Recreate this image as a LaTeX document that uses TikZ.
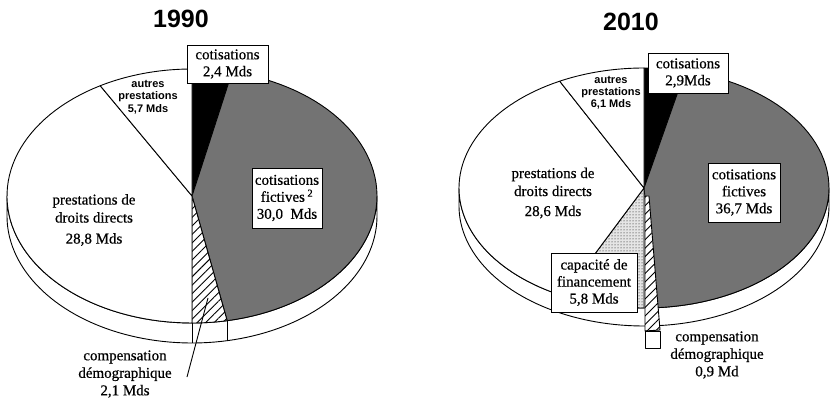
\documentclass[tikz,border=0pt]{standalone}
\usepackage{fontspec}
\setmainfont{Liberation Serif}[FakeBold=0.6]
\newfontfamily\sansf{Liberation Sans}
\usetikzlibrary{patterns.meta}
\newcommand\pieslice[3]{%
  \draw[#1] (\pcx,\pcy) -- plot[domain=#2:#3,samples=60] ({\pcx+\pra*cos(\x)},{\pcy+\prb*sin(\x)}) -- cycle;}
\newcommand\pieside{%
  \draw[edge,fill=white] ({\pcx+\pra},\pcy) -- ({\pcx+\pra},{\pcy+\pt})
    -- plot[domain=0:180,samples=90] ({\pcx+\pra*cos(\x)},{\pcy+\pt+\prb*sin(\x)})
    -- ({\pcx-\pra},\pcy)
    -- plot[domain=180:0,samples=90] ({\pcx+\pra*cos(\x)},{\pcy+\prb*sin(\x)}) -- cycle;}
\tikzset{
  edge/.style={line width=0.9pt, line join=round},
  boxlbl/.style={draw, fill=white, line width=0.9pt, inner sep=0pt, align=center,
    font=\fontsize{15}{17}\selectfont},
  srflbl/.style={align=center, font=\fontsize{15}{18}\selectfont},
  smlbl/.style={align=center, font=\sansf\bfseries\fontsize{11}{12.5}\selectfont},
  ttl/.style={font=\sansf\bfseries\fontsize{25}{25}\selectfont},
  darkwedge/.style={edge, fill=black},
  graywedge/.style={edge, fill=black!55},
  whitewedge/.style={edge, fill=white},
  hatchwedge/.style={edge, preaction={fill=white}, pattern={Lines[angle=45,distance=6pt,line width=0.9pt]}},
  dotwedge/.style={edge, preaction={fill=black!10}, pattern={Dots[distance=3pt,radius=0.5pt]}},
}
\begin{document}
\begin{tikzpicture}[x=1pt,y=-1pt]
\useasboundingbox (0,0) rectangle (831,401);

% ---------------- 1990 ----------------
\def\pcx{192}\def\pcy{196}\def\pra{185}\def\prb{127}\def\pt{20}
\pieside
\pieslice{darkwedge}{270}{282.52}
\pieslice{graywedge}{282.52}{439.04}
\pieslice{hatchwedge}{439.04}{450}
\pieslice{whitewedge}{90}{240.26}
\pieslice{whitewedge}{240.26}{270}
\coordinate (a1) at (192,323);
\coordinate (a2) at (192,343);
\coordinate (b1) at (227,320.7);
\coordinate (b2) at (227,340.7);
\draw[edge] (a1) -- (a2);
\draw[edge] (b1) -- (b2);

\node[ttl] (t1990) at (181,19) {1990};
\node[boxlbl, minimum width=81pt, minimum height=38pt] (cot90) at (227.5,64) {cotisations\\2,4 Mds};
\node[boxlbl, minimum width=70pt, minimum height=60pt] (fic90) at (287,198) {cotisations\\fictives\,\textsuperscript{2}\\30,0\ \ Mds};
\node[smlbl] (aut90) at (148,97) {autres\\prestations\\5,7 Mds};
\node[srflbl] (pre90) at (94,220) {prestations de\\droits directs\\[3pt]28,8 Mds};
\node[srflbl, font=\fontsize{15}{17.5}\selectfont] (com90) at (125,374) {compensation\\démographique\\2,1 Mds};
\coordinate (l1s) at (187,377);
\coordinate (l1e) at (208,298);
\draw[edge] (l1s) -- (l1e);

% ---------------- 2010 ----------------
\def\pcx{644}\def\pcy{188}\def\pra{185}\def\prb{120}\def\pt{18}
\pieside
\pieslice{darkwedge}{270}{282.89}
\pieslice{graywedge}{282.89}{446}
\pieslice{dotwedge}{90}{115.78}
\pieslice{whitewedge}{115.78}{242.89}
\pieslice{whitewedge}{242.89}{270}
\coordinate (h1) at (645,196);
\coordinate (h2) at (645,331);
\coordinate (h3) at (660,330);
\coordinate (h4) at (649,196);
\draw[hatchwedge] (h1) -- (h2) -- (h3) -- (h4) -- cycle;
\coordinate (r1) at (645,331);
\coordinate (r2) at (660,348);
\draw[edge, fill=white] (r1) rectangle (r2);

\node[ttl] (t2010) at (631,22) {2010};
\node[boxlbl, minimum width=80pt, minimum height=40pt] (cot10) at (688,73) {cotisations\\2,9Mds};
\node[boxlbl, minimum width=72pt, minimum height=59pt] (fic10) at (744,192.5) {cotisations\\fictives\\36,7 Mds};
\node[boxlbl, minimum width=86pt, minimum height=59pt] (cap10) at (594,282.5) {capacité de\\financement\\5,8 Mds};
\node[smlbl, font=\sansf\bfseries\fontsize{11}{12}\selectfont] (aut10) at (611,93) {autres\\prestations\\6,1 Mds};
\node[srflbl] (pre10) at (553,193) {prestations de\\droits directs\\[2pt]28,6 Mds};
\node[srflbl, font=\fontsize{15}{17.5}\selectfont] (com10) at (717,355) {compensation\\démographique\\0,9 Md};
\end{tikzpicture}
\end{document}
